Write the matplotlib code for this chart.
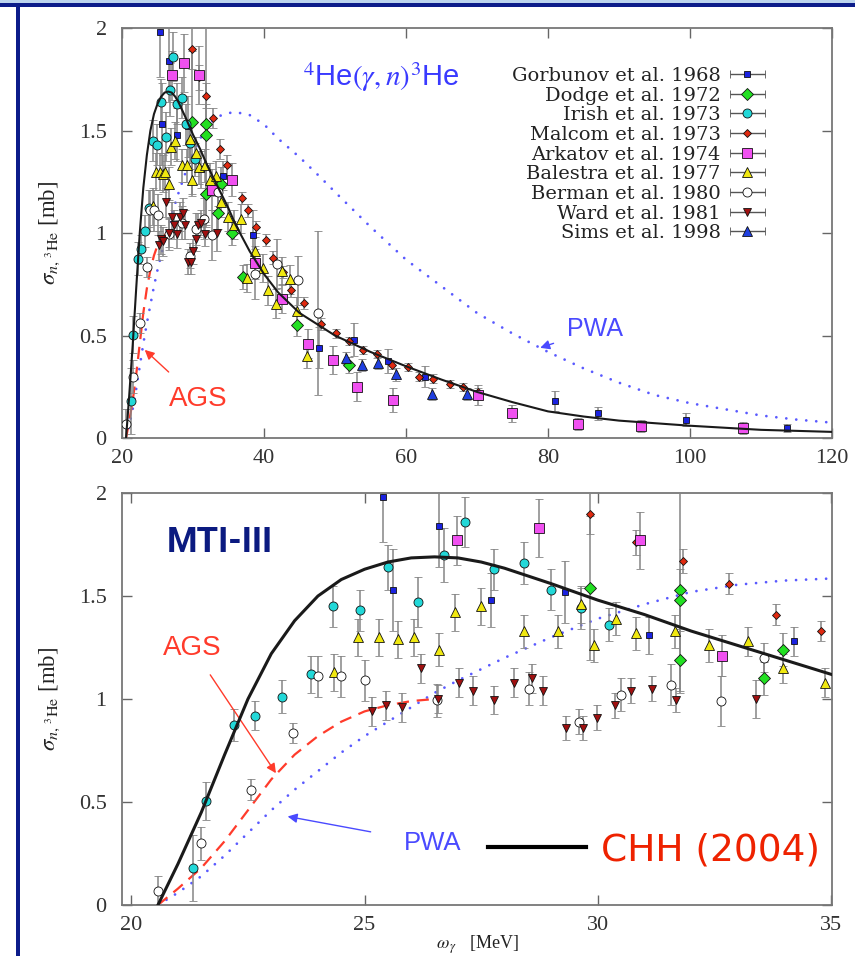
import numpy as np
import matplotlib
matplotlib.use('Agg')
import matplotlib.pyplot as plt
from matplotlib.lines import Line2D
from matplotlib.patches import Rectangle
from matplotlib.container import ErrorbarContainer
from matplotlib.legend_handler import HandlerErrorbar
from matplotlib.ticker import FormatStrFormatter

plt.rcParams['font.family'] = 'Liberation Serif'
plt.rcParams['mathtext.fontset'] = 'stix'

# theory curves (MeV, mb)
chh_e = [20.57, 21, 21.5, 22, 22.5, 23, 23.5, 24, 24.5, 25, 25.5, 26, 26.5, 27, 27.5, 28, 29, 30, 31, 32,
         33, 34, 35, 36, 38, 40, 42, 45, 50, 55, 60, 65, 70, 75, 80, 85, 90, 100, 110, 120]
chh_s = [0, 0.2, 0.45, 0.73, 1.0, 1.22, 1.38, 1.5, 1.58, 1.63, 1.665, 1.685, 1.69, 1.685, 1.665, 1.635, 1.56, 1.48, 1.41, 1.33,
         1.26, 1.19, 1.12, 1.04, 0.91, 0.80, 0.71, 0.61, 0.50, 0.42, 0.35, 0.285, 0.225, 0.175, 0.13, 0.105, 0.085, 0.06, 0.04, 0.03]

ags_e = [20.57, 21, 21.5, 22, 22.5, 23, 23.5, 24, 24.5, 25, 25.5, 26, 26.5]
ags_s = [0, 0.08, 0.18, 0.31, 0.46, 0.61, 0.73, 0.82, 0.89, 0.94, 0.97, 0.99, 1.0]

pwa_e = [20.57, 21, 21.5, 22, 22.5, 23, 23.5, 24, 24.5, 25, 25.5, 26, 26.5, 27, 28, 29, 30, 31, 32, 33, 34, 35,
         36, 38, 40, 42, 45, 48, 50, 55, 60, 65, 70, 75, 80, 85, 90, 95, 100, 105, 110, 115, 120]
pwa_s = [0, 0.06, 0.14, 0.24, 0.35, 0.46, 0.56, 0.65, 0.74, 0.82, 0.89, 0.96, 1.03, 1.09, 1.2, 1.3, 1.39, 1.46, 1.52, 1.555, 1.575, 1.585,
         1.59, 1.575, 1.53, 1.46, 1.37, 1.27, 1.2, 1.03, 0.87, 0.74, 0.61, 0.51, 0.42, 0.34, 0.27, 0.21, 0.17, 0.14, 0.11, 0.09, 0.075]

# experimental data: energy, sigma, error
gorbunov_e = [25.4, 25.6, 26.6, 27.7, 29.3, 31.1, 34.2, 38.4, 47.7, 52.7, 57.5, 62.7, 81.0, 87.0, 99.5, 113.7]
gorbunov_s = [1.98, 1.53, 1.84, 1.48, 1.52, 1.31, 1.28, 0.99, 0.44, 0.48, 0.375, 0.30, 0.18, 0.12, 0.09, 0.05]
gorbunov_d = [0.22, 0.2, 0.2, 0.13, 0.15, 0.09, 0.07, 0.12, 0.1, 0.08, 0.06, 0.05, 0.05, 0.03, 0.03, 0.02]

dodge_e = [29.84, 31.76, 31.76, 31.76, 33.56, 33.97, 35.5, 37.0, 44.6, 52.0]
dodge_s = [1.54, 1.53, 1.48, 1.19, 1.10, 1.24, 1.00, 0.785, 0.55, 0.355]
dodge_d = [0.35, 0.5, 0.15, 0.15, 0.08, 0.08, 0.06, 0.06, 0.05, 0.04]

irish_e = [21.33, 21.61, 22.2, 22.65, 23.24, 23.86, 24.32, 24.9, 25.5, 26.14, 26.7, 27.15, 27.78, 28.41, 29.0, 29.64, 30.25]
irish_s = [0.18, 0.505, 0.874, 0.92, 1.01, 1.12, 1.45, 1.43, 1.64, 1.47, 1.70, 1.86, 1.63, 1.66, 1.53, 1.44, 1.36]
irish_d = [0.16, 0.09, 0.08, 0.07, 0.08, 0.09, 0.1, 0.1, 0.11, 0.12, 0.13, 0.12, 0.1, 0.1, 0.1, 0.1, 0.08]

malcom_e = [29.84, 30.81, 31.83, 32.82, 33.82, 34.79, 36.9, 37.8, 38.9, 40.3, 41.3, 42.7, 43.8, 45.6, 48.0,
            50.1, 52.0, 54.0, 55.9, 58.0, 60.3, 61.8, 63.8, 66.2, 68.0, 70.1]
malcom_s = [1.90, 1.76, 1.67, 1.56, 1.41, 1.33, 1.17, 1.11, 1.03, 0.966, 0.88, 0.81, 0.72, 0.66, 0.555,
            0.51, 0.475, 0.43, 0.41, 0.355, 0.345, 0.30, 0.29, 0.265, 0.25, 0.225]
malcom_d = [0.1, 0.06, 0.06, 0.05, 0.05, 0.05, 0.03, 0.03, 0.03, 0.03, 0.03, 0.03, 0.03, 0.03, 0.03,
            0.02, 0.02, 0.02, 0.02, 0.02, 0.02, 0.02, 0.02, 0.02, 0.02, 0.02]

arkatov_e = [26.98, 28.73, 30.9, 32.67, 35.5, 38.7, 42.5, 46.2, 49.7, 53.1, 58.2, 70.1, 74.9, 84.2, 93.1, 107.5]
arkatov_s = [1.77, 1.83, 1.77, 1.21, 1.26, 0.855, 0.68, 0.46, 0.38, 0.25, 0.185, 0.21, 0.12, 0.07, 0.06, 0.05]
arkatov_d = [0.12, 0.14, 0.14, 0.1, 0.08, 0.08, 0.07, 0.07, 0.07, 0.07, 0.06, 0.05, 0.04, 0.03, 0.03, 0.03]

balestra_e = [24.35, 24.85, 25.3, 25.72, 26.05, 26.59, 26.94, 27.5, 28.41, 29.14, 29.64, 29.92, 30.38, 30.81, 31.65,
              32.39, 33.21, 33.97, 34.88, 35.8, 36.8, 37.6, 38.7, 39.8, 40.6, 41.7, 42.6, 43.7, 44.6, 46.1]
balestra_s = [1.13, 1.30, 1.30, 1.29, 1.30, 1.24, 1.42, 1.45, 1.33, 1.33, 1.46, 1.26, 1.39, 1.32, 1.33,
              1.26, 1.28, 1.15, 1.08, 1.04, 1.07, 0.78, 0.91, 0.83, 0.72, 0.655, 0.815, 0.775, 0.62, 0.40]
balestra_d = [0.09, 0.09, 0.09, 0.09, 0.09, 0.08, 0.09, 0.09, 0.08, 0.08, 0.09, 0.08, 0.08, 0.08, 0.08,
              0.08, 0.07, 0.07, 0.07, 0.07, 0.07, 0.07, 0.07, 0.07, 0.07, 0.07, 0.07, 0.07, 0.07, 0.06]

berman_e = [20.57, 21.5, 22.56, 23.47, 24.0, 24.5, 25.0, 26.55, 28.52, 29.6, 30.49, 31.57, 32.65, 33.56, 38.7, 41.8, 44.8, 47.6]
berman_s = [0.07, 0.30, 0.56, 0.835, 1.11, 1.11, 1.09, 0.995, 1.05, 0.89, 1.02, 1.07, 0.99, 1.20, 0.80, 0.85, 0.77, 0.61]
berman_d = [0.07, 0.08, 0.05, 0.05, 0.1, 0.1, 0.1, 0.08, 0.08, 0.06, 0.08, 0.1, 0.12, 0.07, 0.12, 0.12, 0.12, 0.4]

ward_e = [25.15, 25.45, 25.81, 26.22, 26.57, 27.02, 27.32, 27.78, 28.21, 28.58, 28.82, 29.32, 29.68, 29.99,
          30.36, 30.72, 31.16, 31.68, 33.39]
ward_s = [0.94, 0.97, 0.96, 1.15, 1.0, 1.08, 1.04, 0.995, 1.08, 1.10, 1.04, 0.86, 0.86, 0.91,
          0.97, 1.04, 1.05, 0.995, 1.0]
ward_d = [0.07, 0.07, 0.07, 0.07, 0.07, 0.07, 0.07, 0.07, 0.07, 0.07, 0.07, 0.06, 0.06, 0.06,
          0.06, 0.06, 0.06, 0.06, 0.09]

sims_e = [51.5, 53.8, 56.1, 58.6, 63.7, 68.6]
sims_s = [0.39, 0.355, 0.365, 0.31, 0.215, 0.215]
sims_d = [0.03, 0.03, 0.03, 0.03, 0.03, 0.03]

labels = ['Gorbunov et al. 1968', 'Dodge et al. 1972', 'Irish et al. 1973', 'Malcom et al. 1973',
          'Arkatov et al. 1974', 'Balestra et al. 1977', 'Berman et al. 1980', 'Ward et al. 1981', 'Sims et al. 1998']

sets = [
    (gorbunov_e, gorbunov_s, gorbunov_d, 's', '#1a22e0', 5.0),
    (dodge_e, dodge_s, dodge_d, 'D', '#22e022', 6.0),
    (irish_e, irish_s, irish_d, 'o', '#22d8d8', 6.5),
    (malcom_e, malcom_s, malcom_d, 'D', '#e02a10', 4.5),
    (arkatov_e, arkatov_s, arkatov_d, 's', '#f050f0', 6.5),
    (balestra_e, balestra_s, balestra_d, '^', '#f0e810', 7.5),
    (berman_e, berman_s, berman_d, 'o', 'white', 6.5),
    (ward_e, ward_s, ward_d, 'v', '#a01010', 6.0),
    (sims_e, sims_s, sims_d, '^', '#1f3fe0', 7.5),
]

fig = plt.figure(figsize=(8.55, 9.56), dpi=100)

# slide decoration
fig.add_artist(Rectangle((0, 1 - 3 / 956), 1, 3 / 956, transform=fig.transFigure, color='#bcd4ee', lw=0))
fig.add_artist(Rectangle((0, 1 - 7 / 956), 1, 4 / 956, transform=fig.transFigure, color='#0c1c8a', lw=0))
fig.add_artist(Rectangle((16 / 855, 0), 4 / 855, 1 - 7 / 956, transform=fig.transFigure, color='#0c1c8a', lw=0))

ax1 = fig.add_axes([0.1427, 0.5418, 0.8304, 0.4289])
ax2 = fig.add_axes([0.1427, 0.0533, 0.8304, 0.431])

for ax in (ax1, ax2):
    ax.plot(pwa_e, pwa_s, color='#5a5aff', lw=2.0, ls=(0, (0.01, 3.6)), dash_capstyle='round', zorder=2)
    ax.plot(ags_e, ags_s, color='#ff3b2b', lw=1.6, ls=(0, (5.5, 3.5)), zorder=2)
    ax.plot(chh_e, chh_s, color='#1a1a1a', lw=1.5 if ax is ax1 else 2.2, zorder=4)
    for e, s, d, mk, fc, ms in sets:
        ax.errorbar(e, s, yerr=d, fmt=mk, ms=ms, mfc=fc, mec='#111111', mew=0.6,
                    ecolor='#858585', elinewidth=1.1, capsize=3, capthick=1.1, zorder=3)
    ax.set_ylim(0, 2)
    ax.set_yticks([0, 0.5, 1, 1.5, 2])
    ax.yaxis.set_major_formatter(FormatStrFormatter('%g'))
    ax.tick_params(direction='in', top=True, right=True, length=7, width=1, color='#666666',
                   labelsize=16, labelcolor='#333333')
    ax.tick_params(axis='y', pad=11)
    ax.tick_params(axis='x', pad=8)
    for sp in ax.spines.values():
        sp.set_color('#777777')
        sp.set_linewidth(1.3)
    ax.set_ylabel(r'$\sigma_{n,\,{}^3\mathrm{He}}$ [mb]', fontsize=16.5, color='#222222', labelpad=12)

ax1.set_xlim(20, 120)
ax1.set_xticks([20, 40, 60, 80, 100, 120])
ax2.set_xlim(19.8, 35.02)
ax2.set_xticks([20, 25, 30, 35])
ax2.set_xlabel(r'$\omega_{\,\gamma}$   [MeV]', fontsize=13, color='#222222')
ax2.xaxis.set_label_coords(0.5, -0.068)

# legend of the top panel
proxies = []
for e, s, d, mk, fc, ms in sets:
    proxies.append(ax1.errorbar([np.nan], [np.nan], xerr=[1.0], fmt=mk, ms=ms, mfc=fc, mec='#111111', mew=0.6,
                                ecolor='#555555', elinewidth=1.0, capsize=3, capthick=1.0))
leg = ax1.legend(proxies, labels, loc='upper right', bbox_to_anchor=(0.906, 0.905), frameon=False,
                 prop={'family': 'DejaVu Serif', 'size': 14.0}, markerfirst=False, numpoints=1,
                 handlelength=1.85, handletextpad=0.45, labelspacing=0.085, borderpad=0, borderaxespad=0,
                 handler_map={ErrorbarContainer: HandlerErrorbar(xerr_size=0.9)})
for t in leg.get_texts():
    t.set_color('#222222')

# annotations, top panel
ax1.text(56.5, 1.76, r'$^4$He$(\gamma,n)^3$He', color='#3a3aff', fontsize=21, family='Liberation Sans',
         ha='center', va='center')
ax1.annotate('PWA', xy=(78.9, 0.44), xytext=(86.6, 0.53), color='#4a4aff', fontsize=18,
             family='Liberation Sans', ha='center', va='center',
             arrowprops=dict(arrowstyle='-|>', color='#4a4aff', lw=1.0, shrinkA=8, shrinkB=0, mutation_scale=14))
ax1.annotate('AGS', xy=(23.2, 0.43), xytext=(30.7, 0.19), color='#ff3b2b', fontsize=20,
             family='Liberation Sans', ha='center', va='center',
             arrowprops=dict(arrowstyle='-|>', color='#ff3b2b', lw=1.0, shrinkA=12, shrinkB=0, mutation_scale=14))

# annotations, bottom panel
ax2.text(21.9, 1.76, 'MTI-III', color='#0b1a80', fontsize=25, family='Roboto', weight='bold',
         ha='center', va='center')
ax2.annotate('AGS', xy=(23.1, 0.64), xytext=(21.3, 1.25), color='#ff3b2b', fontsize=20,
             family='Liberation Sans', ha='center', va='center',
             arrowprops=dict(arrowstyle='-|>', color='#ff3b2b', lw=1.0, shrinkA=10, shrinkB=0, mutation_scale=14))
ax2.annotate('PWA', xy=(23.35, 0.43), xytext=(26.45, 0.30), color='#4a4aff', fontsize=18.5,
             family='Liberation Sans', ha='center', va='center',
             arrowprops=dict(arrowstyle='-|>', color='#4a4aff', lw=1.0, shrinkA=22, shrinkB=0, mutation_scale=14))

chh_handle = Line2D([], [], color='black', lw=3)
leg2 = ax2.legend([chh_handle], ['CHH (2004)'], loc='center left', bbox_to_anchor=(0.5155, 0.1335),
                  frameon=False, handlelength=2.6, handletextpad=0.42, borderpad=0, borderaxespad=0,
                  prop={'family': 'DejaVu Sans', 'size': 27})
for t in leg2.get_texts():
    t.set_color('#ee2200')

fig.savefig('out.png', dpi=100)
